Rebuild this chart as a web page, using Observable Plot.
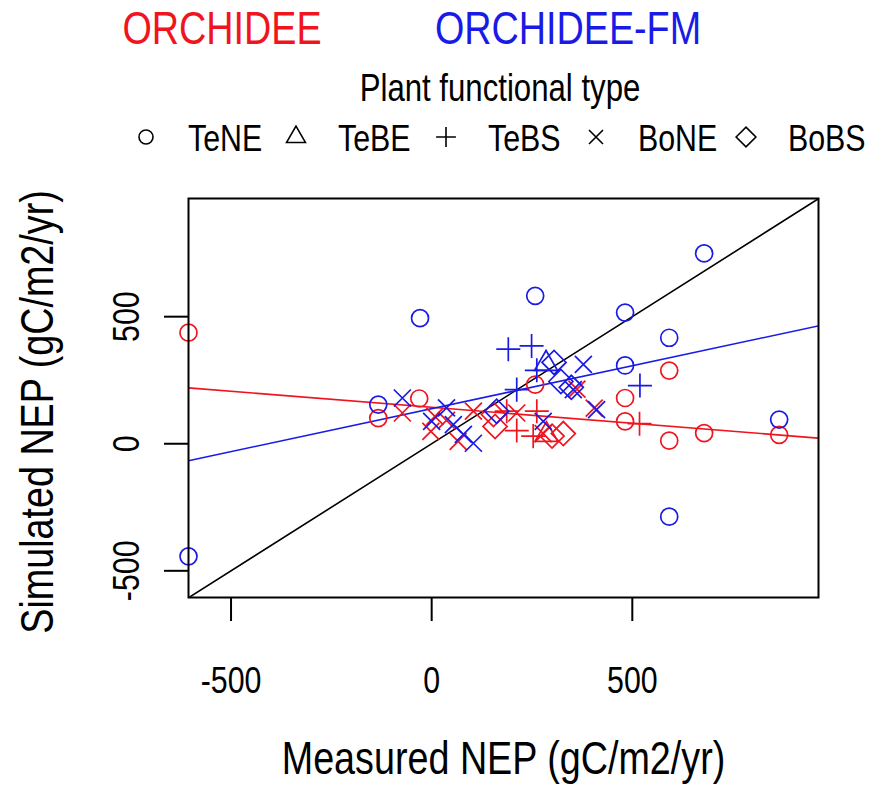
<!DOCTYPE html>
<html><head><meta charset="utf-8">
<script src="https://cdn.jsdelivr.net/npm/d3@7"></script>
<script src="https://cdn.jsdelivr.net/npm/@observablehq/plot@0.6"></script>
<style>
body{margin:0;background:#fff;}
#wrap{position:relative;width:877px;height:788px;overflow:hidden;font-family:"Liberation Sans",Arial,sans-serif;}
#head{position:relative;width:877px;height:160px;}
.t{position:absolute;white-space:nowrap;line-height:1;transform-origin:50% 50%;transform:translate(-50%,-50%) scaleX(0.82);}
.l{position:absolute;white-space:nowrap;line-height:1;transform-origin:0 50%;transform:translate(0,-50%) scaleX(0.82);}
.s{position:absolute;}
</style></head><body>
<div id="wrap"><div id="head"></div><div id="chart"></div></div>
<script>
// ---------------- data ----------------
const models = ["ORCHIDEE", "ORCHIDEE-FM"];
const modelColors = ["#f0141e", "#1a1ae6"];
const pfts = ["TeNE", "TeBE", "TeBS", "BoNE", "BoBS"];

// ORCHIDEE (red): measured x, simulated y, per PFT
const orcTeNE_x = [-606, -133, -31, 258, 482, 482, 592, 592, 679, 866];
const orcTeNE_y = [437, 101, 178, 233, 180, 88, 288, 12, 42, 35];
const orcTeBE_x = [286];
const orcTeBE_y = [35];
const orcTeBS_x = [187, 212, 262, 253, 518];
const orcTeBS_y = [128, 52, 128, 30, 79];
const orcBoNE_x = [-73, 8, -2, 66, 104, 212, 278, 362, 405, 37];
const orcBoNE_y = [121, 108, 49, 9, 128, 121, 40, 215, 140, 92];
const orcBoBS_x = [154, 158, 328, 300];
const orcBoBS_y = [115, 68, 40, 30];

// ORCHIDEE-FM (blue)
const fmTeNE_x = [-606, -133, -29, 258, 482, 482, 592, 592, 679, 866];
const fmTeNE_y = [-443, 154, 494, 582, 516, 308, 417, -287, 749, 95];
const fmTeBE_x = [285];
const fmTeBE_y = [315];
const fmTeBS_x = [191, 249, 262, 212, 519];
const fmTeBS_y = [372, 385, 289, 213, 229];
const fmBoNE_x = [-73, 37, 0, 54, 104, 79, 278, 353, 378, 411];
const fmBoNE_y = [180, 141, 88, 75, 2, 37, 88, 213, 312, 134];
const fmBoBS_x = [162, 305, 322, 348];
const fmBoBS_y = [128, 320, 245, 222];

// regression lines (intercept, slope) per model
const fitIntercepts = [143.5, 138];
const fitSlopes = [-0.126, 0.338];

// axes
const xDomain = [-606, 964];
const yDomain = [-605, 965];
const xTicks = [-500, 0, 500];
const yTicks = [-500, 0, 500];
const xTitle = "Measured NEP (gC/m2/yr)";
const yTitle = "Simulated NEP (gC/m2/yr)";
const legendTitle = "Plant functional type";

// ---------------- symbols (R pch 1..5) ----------------
const S2 = Math.SQRT2;
const rad = size => Math.sqrt(size / Math.PI);
const symCircle = {draw(c, s){ const r = rad(s); c.moveTo(r, 0); c.arc(0, 0, r, 0, 2*Math.PI); }};
const symTriangle = {draw(c, s){ const R = rad(s); const r = 1.5551*R, xc = 1.3468*R, yc = 0.7776*R;
  c.moveTo(0, -r); c.lineTo(xc, yc); c.lineTo(-xc, yc); c.closePath(); }};
const symPlus = {draw(c, s){ const h = S2*rad(s); c.moveTo(-h, 0); c.lineTo(h, 0); c.moveTo(0, -h); c.lineTo(0, h); }};
const symTimes = {draw(c, s){ const R = rad(s); c.moveTo(-R, -R); c.lineTo(R, R); c.moveTo(-R, R); c.lineTo(R, -R); }};
const symDiamond = {draw(c, s){ const h = S2*rad(s); c.moveTo(-h, 0); c.lineTo(0, -h); c.lineTo(h, 0); c.lineTo(0, h); c.closePath(); }};
const pftSymbols = [symCircle, symTriangle, symPlus, symTimes, symDiamond];

const FONT = '"Liberation Sans",Arial,sans-serif';
const SX = 0.82; // narrow (condensed) text

// ---------------- header ----------------
const head = document.getElementById("head");
function addText(txt, x, y, size, color, cls = "t") {
  const d = document.createElement("div");
  d.className = cls; d.textContent = txt;
  d.style.left = x + "px"; d.style.top = y + "px";
  d.style.fontSize = size + "px"; d.style.color = color;
  head.appendChild(d);
}
addText(models[0], 222, 28, 46, modelColors[0]);
addText(models[1], 568, 28, 46, modelColors[1]);
addText(legendTitle, 500, 88, 38, "#000");
const legStart = 146, legPitch = 150, legGap = 42;
pfts.forEach((p, i) => {
  const cx = legStart + i * legPitch;
  const ns = "http://www.w3.org/2000/svg";
  const svg = document.createElementNS(ns, "svg");
  svg.setAttribute("width", 30); svg.setAttribute("height", 30);
  svg.setAttribute("class", "s");
  svg.style.left = (cx - 15) + "px"; svg.style.top = (137 - 15) + "px";
  const path = d3.path();
  const R = 7;
  pftSymbols[i].draw(path, Math.PI * R * R);
  const pe = document.createElementNS(ns, "path");
  pe.setAttribute("d", path.toString());
  pe.setAttribute("transform", "translate(15,15)");
  pe.setAttribute("fill", "none"); pe.setAttribute("stroke", "#000"); pe.setAttribute("stroke-width", 1.6);
  svg.appendChild(pe);
  head.appendChild(svg);
  addText(p, cx + legGap, 138, 37, "#000", "l");
});

// ---------------- chart ----------------
const series = {
  "ORCHIDEE": {TeNE:[orcTeNE_x, orcTeNE_y], TeBE:[orcTeBE_x, orcTeBE_y], TeBS:[orcTeBS_x, orcTeBS_y], BoNE:[orcBoNE_x, orcBoNE_y], BoBS:[orcBoBS_x, orcBoBS_y]},
  "ORCHIDEE-FM": {TeNE:[fmTeNE_x, fmTeNE_y], TeBE:[fmTeBE_x, fmTeBE_y], TeBS:[fmTeBS_x, fmTeBS_y], BoNE:[fmBoNE_x, fmBoNE_y], BoBS:[fmBoBS_x, fmBoBS_y]}
};

const diag = [{x: Math.min(xDomain[0], yDomain[0]), y: Math.min(xDomain[0], yDomain[0])},
              {x: Math.max(xDomain[1], yDomain[1]), y: Math.max(xDomain[1], yDomain[1])}];

const marks = [];
marks.push(Plot.line(diag, {x: "x", y: "y", stroke: "#000", strokeWidth: 1.6, clip: true}));
models.forEach((m, mi) => {
  const pts = xDomain.map(x => ({x, y: fitIntercepts[mi] + fitSlopes[mi] * x}));
  marks.push(Plot.line(pts, {x: "x", y: "y", stroke: modelColors[mi], strokeWidth: 1.6, clip: true}));
});
models.forEach((m, mi) => {
  pfts.forEach((p, pi) => {
    const [xs, ys] = series[m][p];
    const rows = xs.map((x, k) => ({x, y: ys[k], model: m, pft: p}));
    marks.push(Plot.dot(rows, {x: "x", y: "y", symbol: pftSymbols[pi], r: 8.5, fill: "none",
      stroke: modelColors[mi], strokeWidth: 1.7}));
  });
});
marks.push(Plot.frame({stroke: "#000", strokeWidth: 2}));
const fmt = d => (d < 0 ? "-" : "") + Math.abs(d);
marks.push(Plot.axisX({ticks: xTicks, tickFormat: fmt, tickSize: 24, tickPadding: 45, strokeWidth: 2, label: null, fontSize: 37}));
marks.push(Plot.axisY({ticks: yTicks, tickFormat: fmt, tickSize: 24, tickPadding: 26, tickRotate: -90, strokeWidth: 2, label: null, fontSize: 37}));
marks.push(Plot.text([xTitle], {text: d => d, frameAnchor: "bottom", lineAnchor: "middle", dy: 162, fontSize: 46, fill: "#000"}));
marks.push(Plot.text([yTitle], {text: d => d, frameAnchor: "left", textAnchor: "middle", lineAnchor: "middle", rotate: -90, dx: -150, dy: 14, fontSize: 46, fill: "#000"}));

const chart = Plot.plot({
  width: 877, height: 628,
  marginTop: 38, marginBottom: 191, marginLeft: 188, marginRight: 59,
  x: {domain: xDomain},
  y: {domain: yDomain},
  style: {fontFamily: FONT, fontSize: "37px", color: "#000", background: "#fff", overflow: "visible"},
  marks
});
// condense all chart texts along their reading direction (narrow sans look)
chart.querySelectorAll("text").forEach(t => {
  if (t.hasAttribute("x")) t.setAttribute("x", (+t.getAttribute("x")) / SX);
  const tr = t.getAttribute("transform") || "";
  t.setAttribute("transform", (tr + " scale(" + SX + ",1)").trim());
});
document.getElementById("chart").appendChild(chart);
</script>
</body></html>
